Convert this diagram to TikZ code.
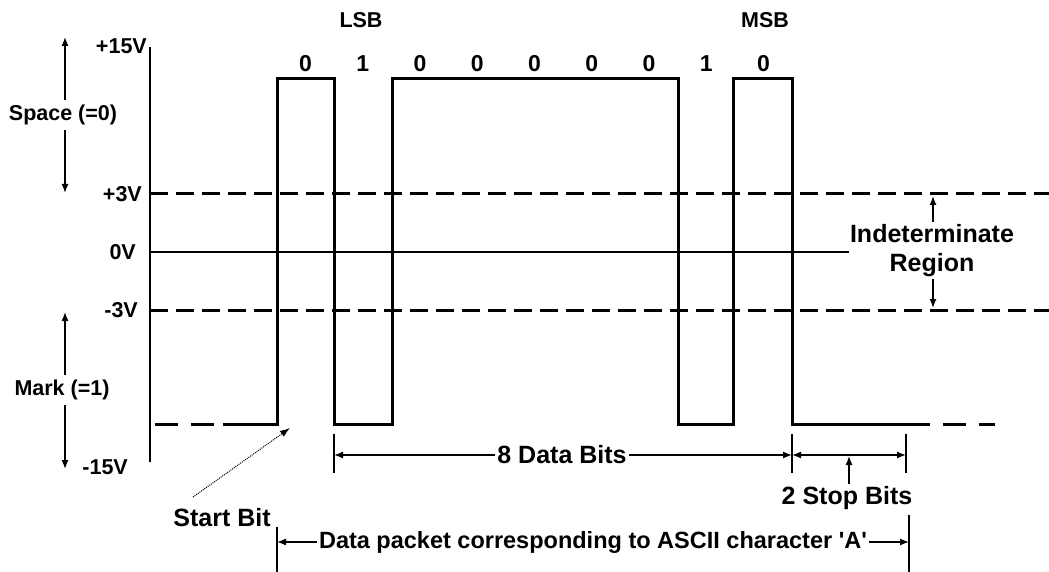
\documentclass[tikz,border=0pt]{standalone}
\usepackage{fontspec}
\setmainfont{Liberation Sans}[Ligatures=TeXOff]
\usetikzlibrary{arrows.meta}
\begin{document}
\begin{tikzpicture}[x=1pt,y=-1pt,
 sig/.style={line width=3pt, line join=miter},
 lvl/.style={line width=3pt, dash pattern=on 18pt off 8pt},
 lowdash/.style={line width=3pt, dash pattern=on 23pt off 13pt},
 axis/.style={line width=1.5pt},
 dim/.style={line width=1.3pt},
 tickm/.style={line width=2.5pt},
 arr/.style={line width=1.3pt, -{Latex[length=9pt,width=7pt]}},
 darr/.style={line width=1.3pt, {Latex[length=9pt,width=7pt]}-{Latex[length=9pt,width=7pt]}},
 ptr/.style={line width=1pt, densely dotted, -{Latex[length=10pt,width=7pt]}},
 small/.style={font=\bfseries\fontsize{21.5}{23}\selectfont, inner sep=0pt},
 digit/.style={font=\bfseries\fontsize{23}{25}\selectfont, inner sep=0pt},
 big/.style={font=\bfseries\fontsize{25}{27}\selectfont, inner sep=2pt},
 pk/.style={font=\bfseries\fontsize{23.5}{26}\selectfont, inner sep=2pt},
]
\useasboundingbox (0,0) rectangle (1049,572);

% axis
\coordinate (axT) at (150,47);
\coordinate (axB) at (150,462);
\draw[axis] (axT) -- (axB);

% level lines
\coordinate (p3L) at (150,194);
\coordinate (p3R) at (1049,194);
\coordinate (m3L) at (150,310);
\coordinate (m3R) at (1049,310);
\coordinate (z0L) at (150,252);
\coordinate (z0R) at (849,252);
\draw[lvl] (p3L) -- (p3R);
\draw[lvl] (m3L) -- (m3R);
\draw[line width=1.3pt] (z0L) -- (z0R);

% voltage labels
\node[small, anchor=east] (v15) at (147,46) {+15V};
\node[small, anchor=east] (v3) at (142,194) {+3V};
\node[small, anchor=east] (v0) at (136,252) {0V};
\node[small, anchor=east] (vm3) at (138,310) {-3V};
\node[small, anchor=east] (vm15) at (128,467) {-15V};

% space / mark
\node[small] (space) at (63,115) {Space (=0)};
\node[small] (mark) at (62,390) {Mark (=1)};
\coordinate (spT) at (65,37);
\coordinate (spB) at (65,193);
\coordinate (mkT) at (65,312);
\coordinate (mkB) at (65,469);
\draw[arr] (space.north -| spT) ++(0,-5) -- (spT);
\draw[arr] (space.south -| spB) ++(0,5) -- (spB);
\draw[arr] (mark.north -| mkT) ++(0,-5) -- (mkT);
\draw[arr] (mark.south -| mkB) ++(0,5) -- (mkB);

% signal
\coordinate (s0) at (155,424);
\coordinate (s1) at (223,424);
\coordinate (e0) at (907,424);
\coordinate (e1) at (995,424);
\draw[lowdash] (s0) -- (s1);
\draw[sig] (s1) -- (277,424) -- (277,79) -- (334,79) -- (334,424) -- (392,424)
  -- (392,79) -- (678,79) -- (678,424) -- (733,424) -- (733,79) -- (792,79)
  -- (792,424) -- (e0);
\draw[lowdash] (e0) -- (e1);

% bit labels
\foreach \b [count=\i from 0] in {0,1,0,0,0,0,0,1,0}{
  \node[digit] (bit\i) at ({277+57.25*(\i+0.5)},64) {\b};
}
\node[small] (lsb) at (361,20) {LSB};
\node[small] (msb) at (765,20) {MSB};

% indeterminate region
\node[big, align=center, inner sep=0pt] (ind) at (932,251) {Indeterminate\\[2pt]Region};
\coordinate (indT) at (933,196);
\coordinate (indB) at (933,308);
\draw[arr] (933,222) -- (indT);
\draw[arr] (933,279) -- (indB);

% 8 data bits
\coordinate (dbL) at (334,455);
\coordinate (dbR) at (792,455);
\draw[tickm] (334,434) -- (334,473);
\draw[tickm] (792,434) -- (792,473);
\node[big] (db) at (562,455) {8 Data Bits};
\draw[arr] (db.west) -- (dbL);
\draw[arr] (db.east) -- (dbR);

% 2 stop bits
\coordinate (sbL) at (792,455);
\coordinate (sbR) at (906,455);
\draw[tickm] (906,434) -- (906,473);
\draw[darr] (sbL) -- (sbR);
\node[big, inner sep=0pt] (sb) at (847,498) {2 Stop Bits};
\coordinate (sbM) at (849,456);
\draw[arr] (sb.north -| sbM) ++(0,-2) -- (sbM);

% start bit
\node[big, inner sep=0pt] (st) at (222,518) {Start Bit};
\coordinate (stA) at (193,497);
\coordinate (stB) at (290,428);
\draw[ptr] (stA) -- (stB);

% packet
\coordinate (pkL) at (277,542);
\coordinate (pkR) at (909,542);
\draw[tickm] (277,527) -- (277,572);
\draw[tickm] (909,515) -- (909,572);
\node[pk] (pk) at (593,542) {Data packet corresponding to ASCII character 'A'};
\draw[arr] (pk.west) -- (pkL);
\draw[arr] (pk.east) -- (pkR);
\end{tikzpicture}
\end{document}
